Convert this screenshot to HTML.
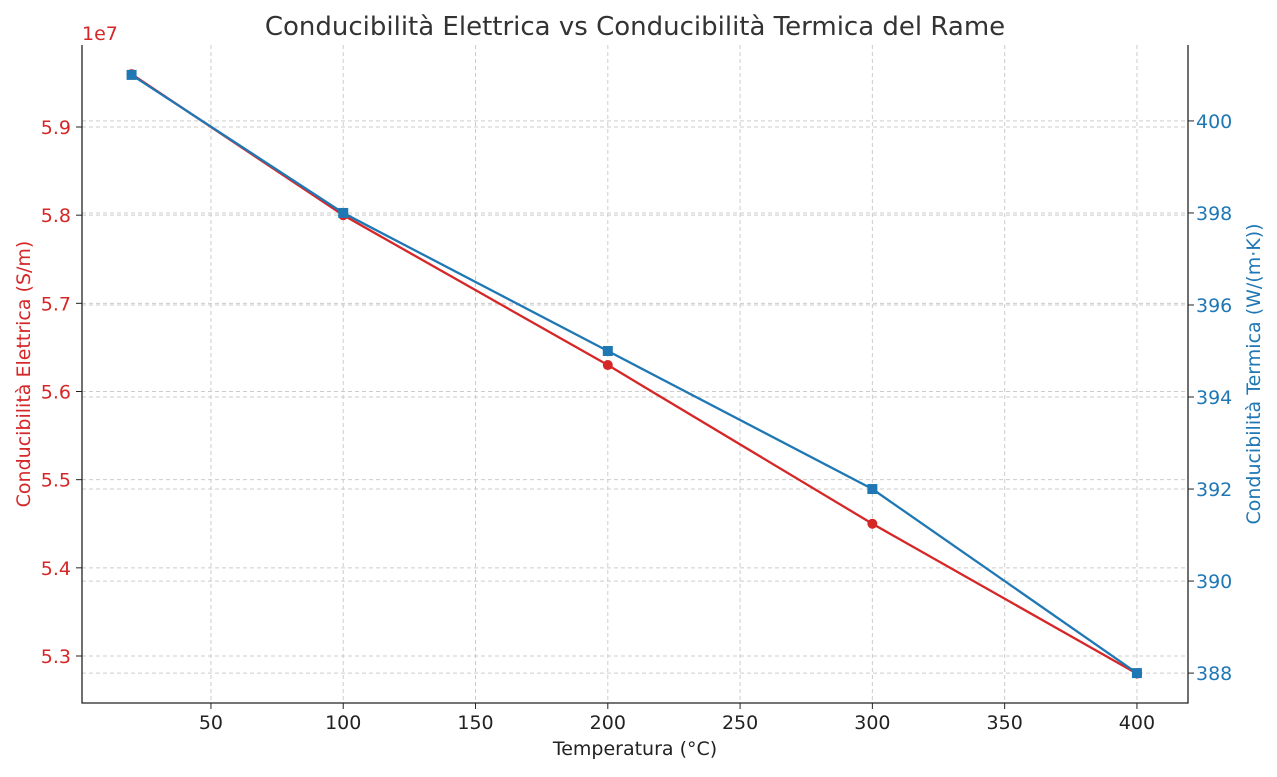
<!DOCTYPE html>
<html><head><meta charset="utf-8"><style>
body{margin:0;background:#fff;}
text{font-family:"DejaVu Sans","Liberation Sans",sans-serif;}
</style></head><body>
<svg id="chart" width="1277" height="772" xmlns="http://www.w3.org/2000/svg"></svg>
<script>
const temps=[20,100,200,300,400];
const elec=[5.96,5.80,5.63,5.45,5.28];
const therm=[401,398,395,392,388];
const xTicks=[50,100,150,200,250,300,350,400];
const leftTicks=[5.3,5.4,5.5,5.6,5.7,5.8,5.9];
const rightTicks=[388,390,392,394,396,398,400];
const L=82,R=1188,T=45,B=703;
const x=v=>L+(v-1.26)/(419.3-1.26)*(R-L);
const yl=v=>T+(5.993-v)/(5.993-5.2467)*(B-T);
const yr=v=>T+(401.65-v)/(401.65-387.35)*(B-T);
const svg=document.getElementById('chart');
const NS='http://www.w3.org/2000/svg';
function mk(tag,attrs,txt){const e=document.createElementNS(NS,tag);for(const k in attrs)e.setAttribute(k,attrs[k]);if(txt!==undefined)e.textContent=txt;svg.appendChild(e);return e;}
const red='#d62728',blue='#1f77b4';
xTicks.forEach(v=>{
 const g=mk('line',{x1:x(v),x2:x(v),y1:T,y2:B,stroke:'#ccc','stroke-dasharray':'4,3','stroke-width':1});
 
 
 const t=mk('line',{x1:x(v),x2:x(v),y1:B,y2:B+6,stroke:'#222'});
 
 
 const l=mk('text',{x:x(v),y:B+26,'text-anchor':'middle','font-size':19,fill:'#222'},v);
 
 
});
leftTicks.forEach(v=>{
 const g=mk('line',{x1:L,x2:R,y1:yl(v),y2:yl(v),stroke:'#ccc','stroke-dasharray':'4,3'});
 
 
 const t=mk('line',{x1:L-6,x2:L,y1:yl(v),y2:yl(v),stroke:'#222'});
 
 
 const l=mk('text',{x:L-11,y:yl(v)+7,'text-anchor':'end','font-size':19,fill:red},v.toFixed(1));
 
 
});
rightTicks.forEach(v=>{
 const g=mk('line',{x1:L,x2:R,y1:yr(v),y2:yr(v),stroke:'#ccc','stroke-dasharray':'4,3'});
 
 
 const t=mk('line',{x1:R,x2:R+6,y1:yr(v),y2:yr(v),stroke:'#222'});
 
 
 const l=mk('text',{x:R+8,y:yr(v)+7,'font-size':19,fill:blue},v);
 
 
});
const ax=mk('path',{d:`M${L},${T}V${B}H${R}V${T}`,fill:'none',stroke:'#222','stroke-width':1.3});


const p1=mk('polyline',{points:temps.map((t,i)=>x(t)+','+yl(elec[i])).join(' '),fill:'none',stroke:red,'stroke-width':2.3});


temps.forEach((t,i)=>{const c=mk('circle',{cx:x(t),cy:yl(elec[i]),r:5,fill:red});
 
 });
const p2=mk('polyline',{points:temps.map((t,i)=>x(t)+','+yr(therm[i])).join(' '),fill:'none',stroke:blue,'stroke-width':2.3});


temps.forEach((t,i)=>{const c=mk('rect',{x:x(t)-5,y:yr(therm[i])-5,width:10,height:10,fill:blue});
 
 });
const ti=mk('text',{x:635,y:35,'text-anchor':'middle','font-size':26,fill:'#333'},'Conducibilità Elettrica vs Conducibilità Termica del Rame');


const xt=mk('text',{x:635,y:755,'text-anchor':'middle','font-size':19,fill:'#222'},'Temperatura (°C)');


const lt=mk('text',{x:0,y:0,'text-anchor':'middle','font-size':19,fill:red,transform:'translate(30,374) rotate(-90)'},'Conducibilità Elettrica (S/m)');


const rt=mk('text',{x:0,y:0,'text-anchor':'middle','font-size':19,fill:blue,transform:'translate(1260,374) rotate(-90)'},'Conducibilità Termica (W/(m·K))');


const off=mk('text',{x:82,y:40,'font-size':19,fill:red},'1e7');


</script>
</body></html>
